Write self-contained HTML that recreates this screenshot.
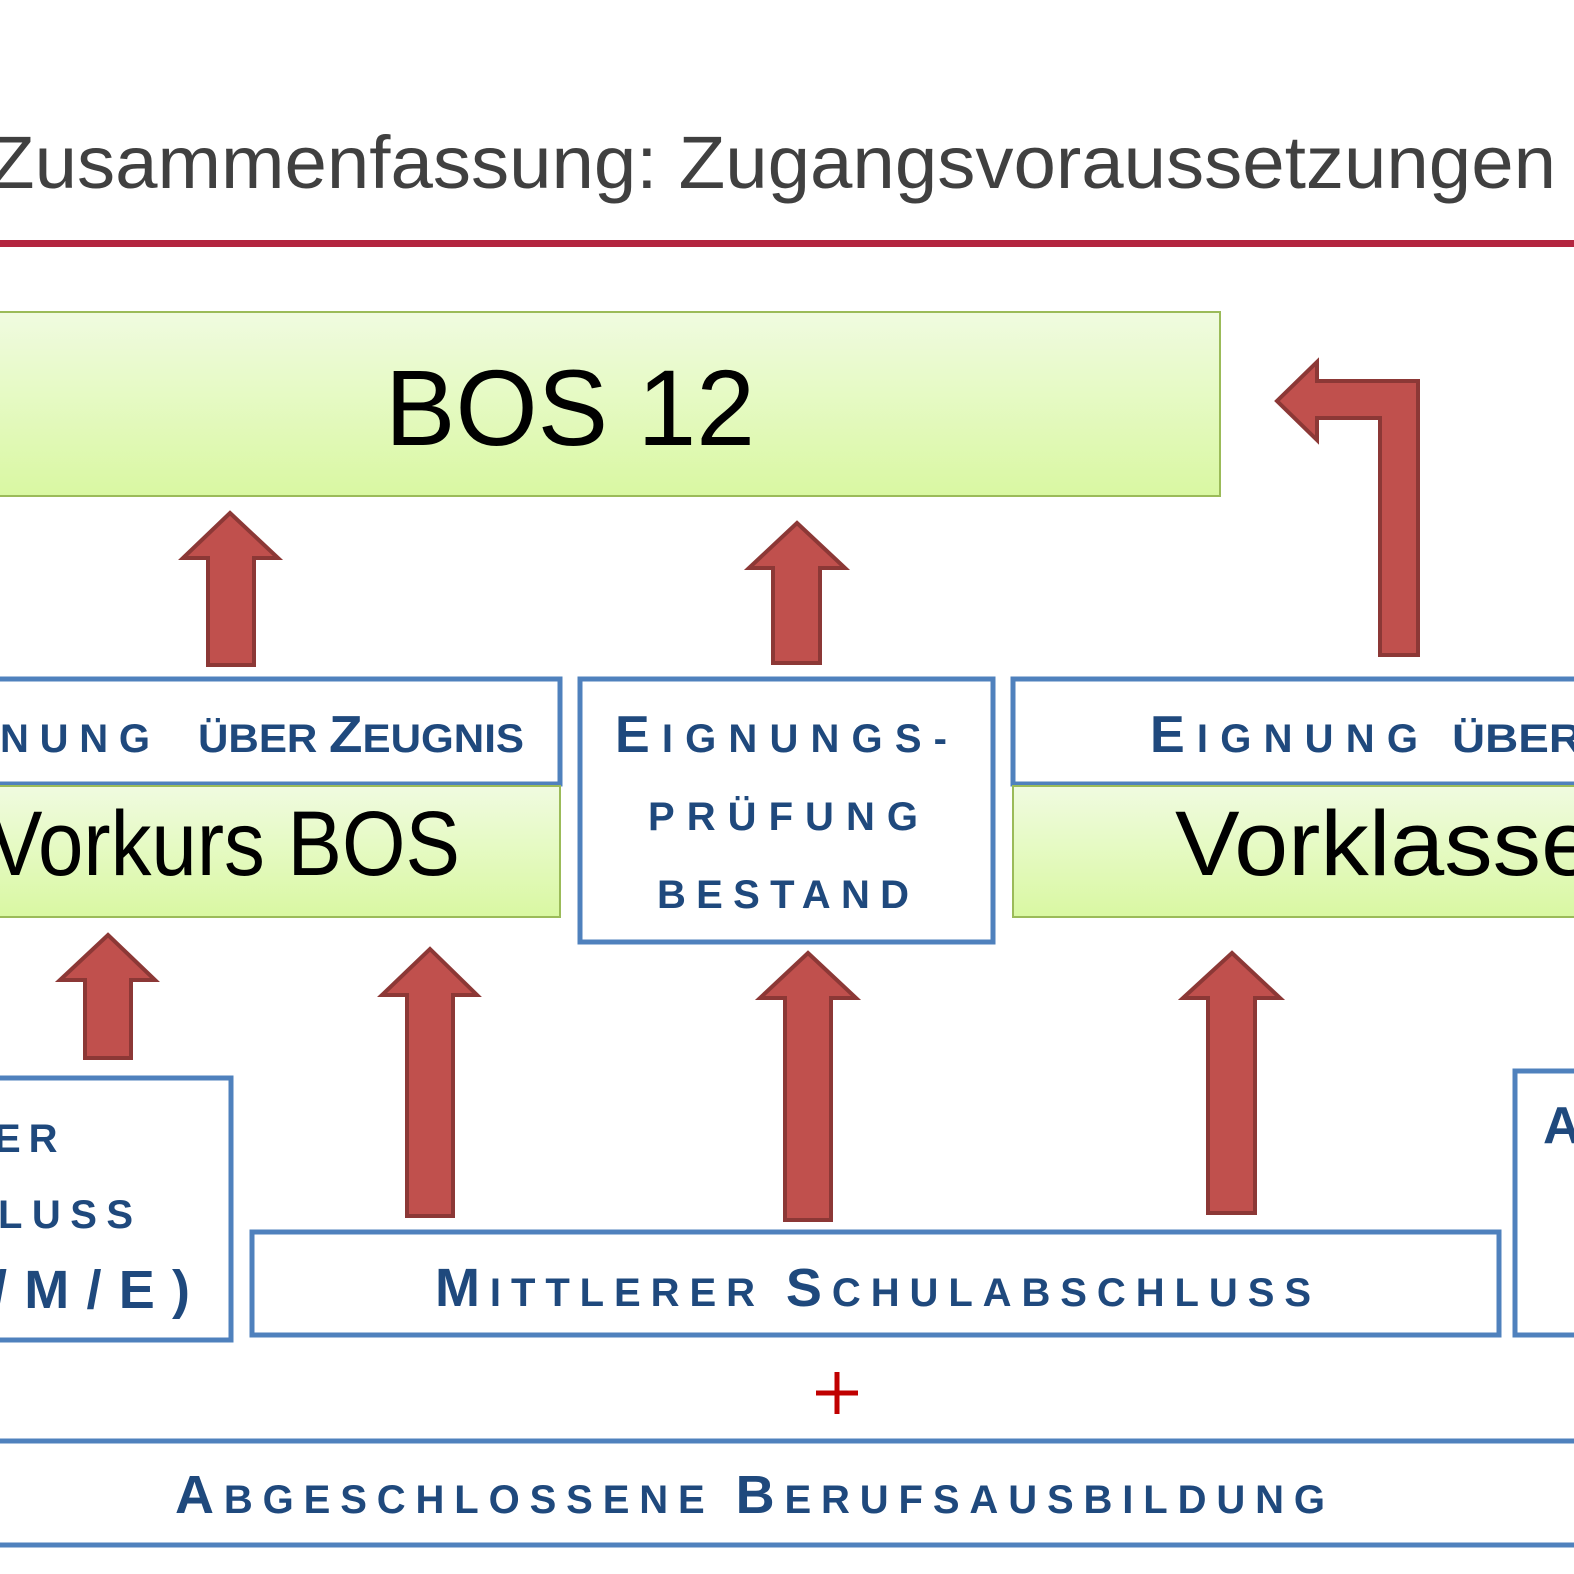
<!DOCTYPE html>
<html><head><meta charset="utf-8"><style>html,body{margin:0;padding:0;background:#fff}svg{display:block}</style></head>
<body>
<svg width="1574" height="1574" viewBox="0 0 1574 1574" xmlns="http://www.w3.org/2000/svg" font-family="Liberation Sans, DejaVu Sans, sans-serif">
<defs>
<linearGradient id="g" x1="0" y1="0" x2="0" y2="1"><stop offset="0" stop-color="#f0fbe0"/><stop offset="1" stop-color="#d9f8a2"/></linearGradient>
</defs>
<text x="-12" y="188" font-size="74" fill="#404040" textLength="1568" lengthAdjust="spacingAndGlyphs">Zusammenfassung: Zugangsvoraussetzungen</text>
<rect x="0" y="240" width="1574" height="7" fill="#b3253f"/>

<rect x="-5" y="312" width="1225" height="184" fill="url(#g)" stroke="#9bbb59" stroke-width="2"/>
<text x="570" y="445" font-size="108" text-anchor="middle" fill="#000" textLength="370" lengthAdjust="spacingAndGlyphs">BOS 12</text>

<g fill="#c0504d" stroke="#8c3836" stroke-width="4" stroke-linejoin="miter">
<polygon points="230,513 278,558 254,558 254,665 208,665 208,558 183,558"/>
<polygon points="797,523 845,568 820,568 820,663 773,663 773,568 749,568"/>
<polygon points="1380,655 1418,655 1418,381 1317,381 1317,362 1277,401 1317,440 1317,418 1380,418"/>
<polygon points="108,935 155,980 131,980 131,1058 85,1058 85,980 60,980"/>
<polygon points="430,949 477,995 453,995 453,1216 407,1216 407,995 382,995"/>
<polygon points="808,953 856,998 831,998 831,1220 785,1220 785,998 760,998"/>
<polygon points="1232,953 1280,998 1255,998 1255,1213 1208,1213 1208,998 1183,998"/>
</g>

<g fill="none" stroke="#4f81bd" stroke-width="5">
<rect x="-5" y="679" width="565" height="105"/>
<rect x="580" y="679" width="413" height="263"/>
<rect x="1013" y="679" width="570" height="105"/>
<rect x="-5" y="1078" width="236" height="262"/>
<rect x="252" y="1232" width="1247" height="103"/>
<rect x="1515" y="1071" width="70" height="264"/>
<rect x="-5" y="1441" width="1590" height="104"/>
</g>
<rect x="-5" y="786" width="565" height="131" fill="url(#g)" stroke="#9bbb59" stroke-width="2"/>
<rect x="1013" y="786" width="570" height="131" fill="url(#g)" stroke="#9bbb59" stroke-width="2"/>

<g fill="#000">
<text x="-12" y="875" font-size="92" textLength="472" lengthAdjust="spacingAndGlyphs">Vorkurs BOS</text>
<text x="1175" y="875" font-size="92" textLength="420" lengthAdjust="spacingAndGlyphs">Vorklasse</text>
</g>

<g fill="#1f497d" font-weight="bold">
<text x="0" y="752" font-size="40" textLength="164" lengthAdjust="spacing" letter-spacing="14">NUNG</text>
<text x="198" y="752" font-size="40" textLength="326" lengthAdjust="spacingAndGlyphs">ÜBER <tspan font-size="52">Z</tspan>EUGNIS</text>
<text x="615" y="752" font-size="40" textLength="332" lengthAdjust="spacing"><tspan font-size="52">E</tspan>IGNUNGS-</text>
<text x="648" y="830" font-size="40" textLength="270" lengthAdjust="spacing">PRÜFUNG</text>
<text x="657" y="908" font-size="40" textLength="252" lengthAdjust="spacing">BESTAND</text>
<text x="1150" y="752" font-size="40" textLength="268" lengthAdjust="spacing"><tspan font-size="52">E</tspan>IGNUNG</text>
<text x="1452" y="752" font-size="40" textLength="130" lengthAdjust="spacingAndGlyphs">ÜBER</text>
<text x="-6" y="1152" font-size="40" letter-spacing="8">ER</text>
<text x="-2" y="1228" font-size="40" textLength="135" lengthAdjust="spacing">LUSS</text>
<text x="-8" y="1308" font-size="54" textLength="198" lengthAdjust="spacing">/M/E)</text>
<text x="1543" y="1143" font-size="52">A</text>
<text x="435" y="1306" font-size="40" textLength="876" lengthAdjust="spacing"><tspan font-size="54">M</tspan>ITTLERER <tspan font-size="54">S</tspan>CHULABSCHLUSS</text>
<text x="175" y="1513" font-size="40" textLength="1150" lengthAdjust="spacing"><tspan font-size="54">A</tspan>BGESCHLOSSENE <tspan font-size="54">B</tspan>ERUFSAUSBILDUNG</text>
</g>
<g stroke="#c00000" stroke-width="5"><line x1="816" y1="1393" x2="858" y2="1393"/><line x1="837" y1="1372" x2="837" y2="1414"/></g>
</svg>
</body></html>
